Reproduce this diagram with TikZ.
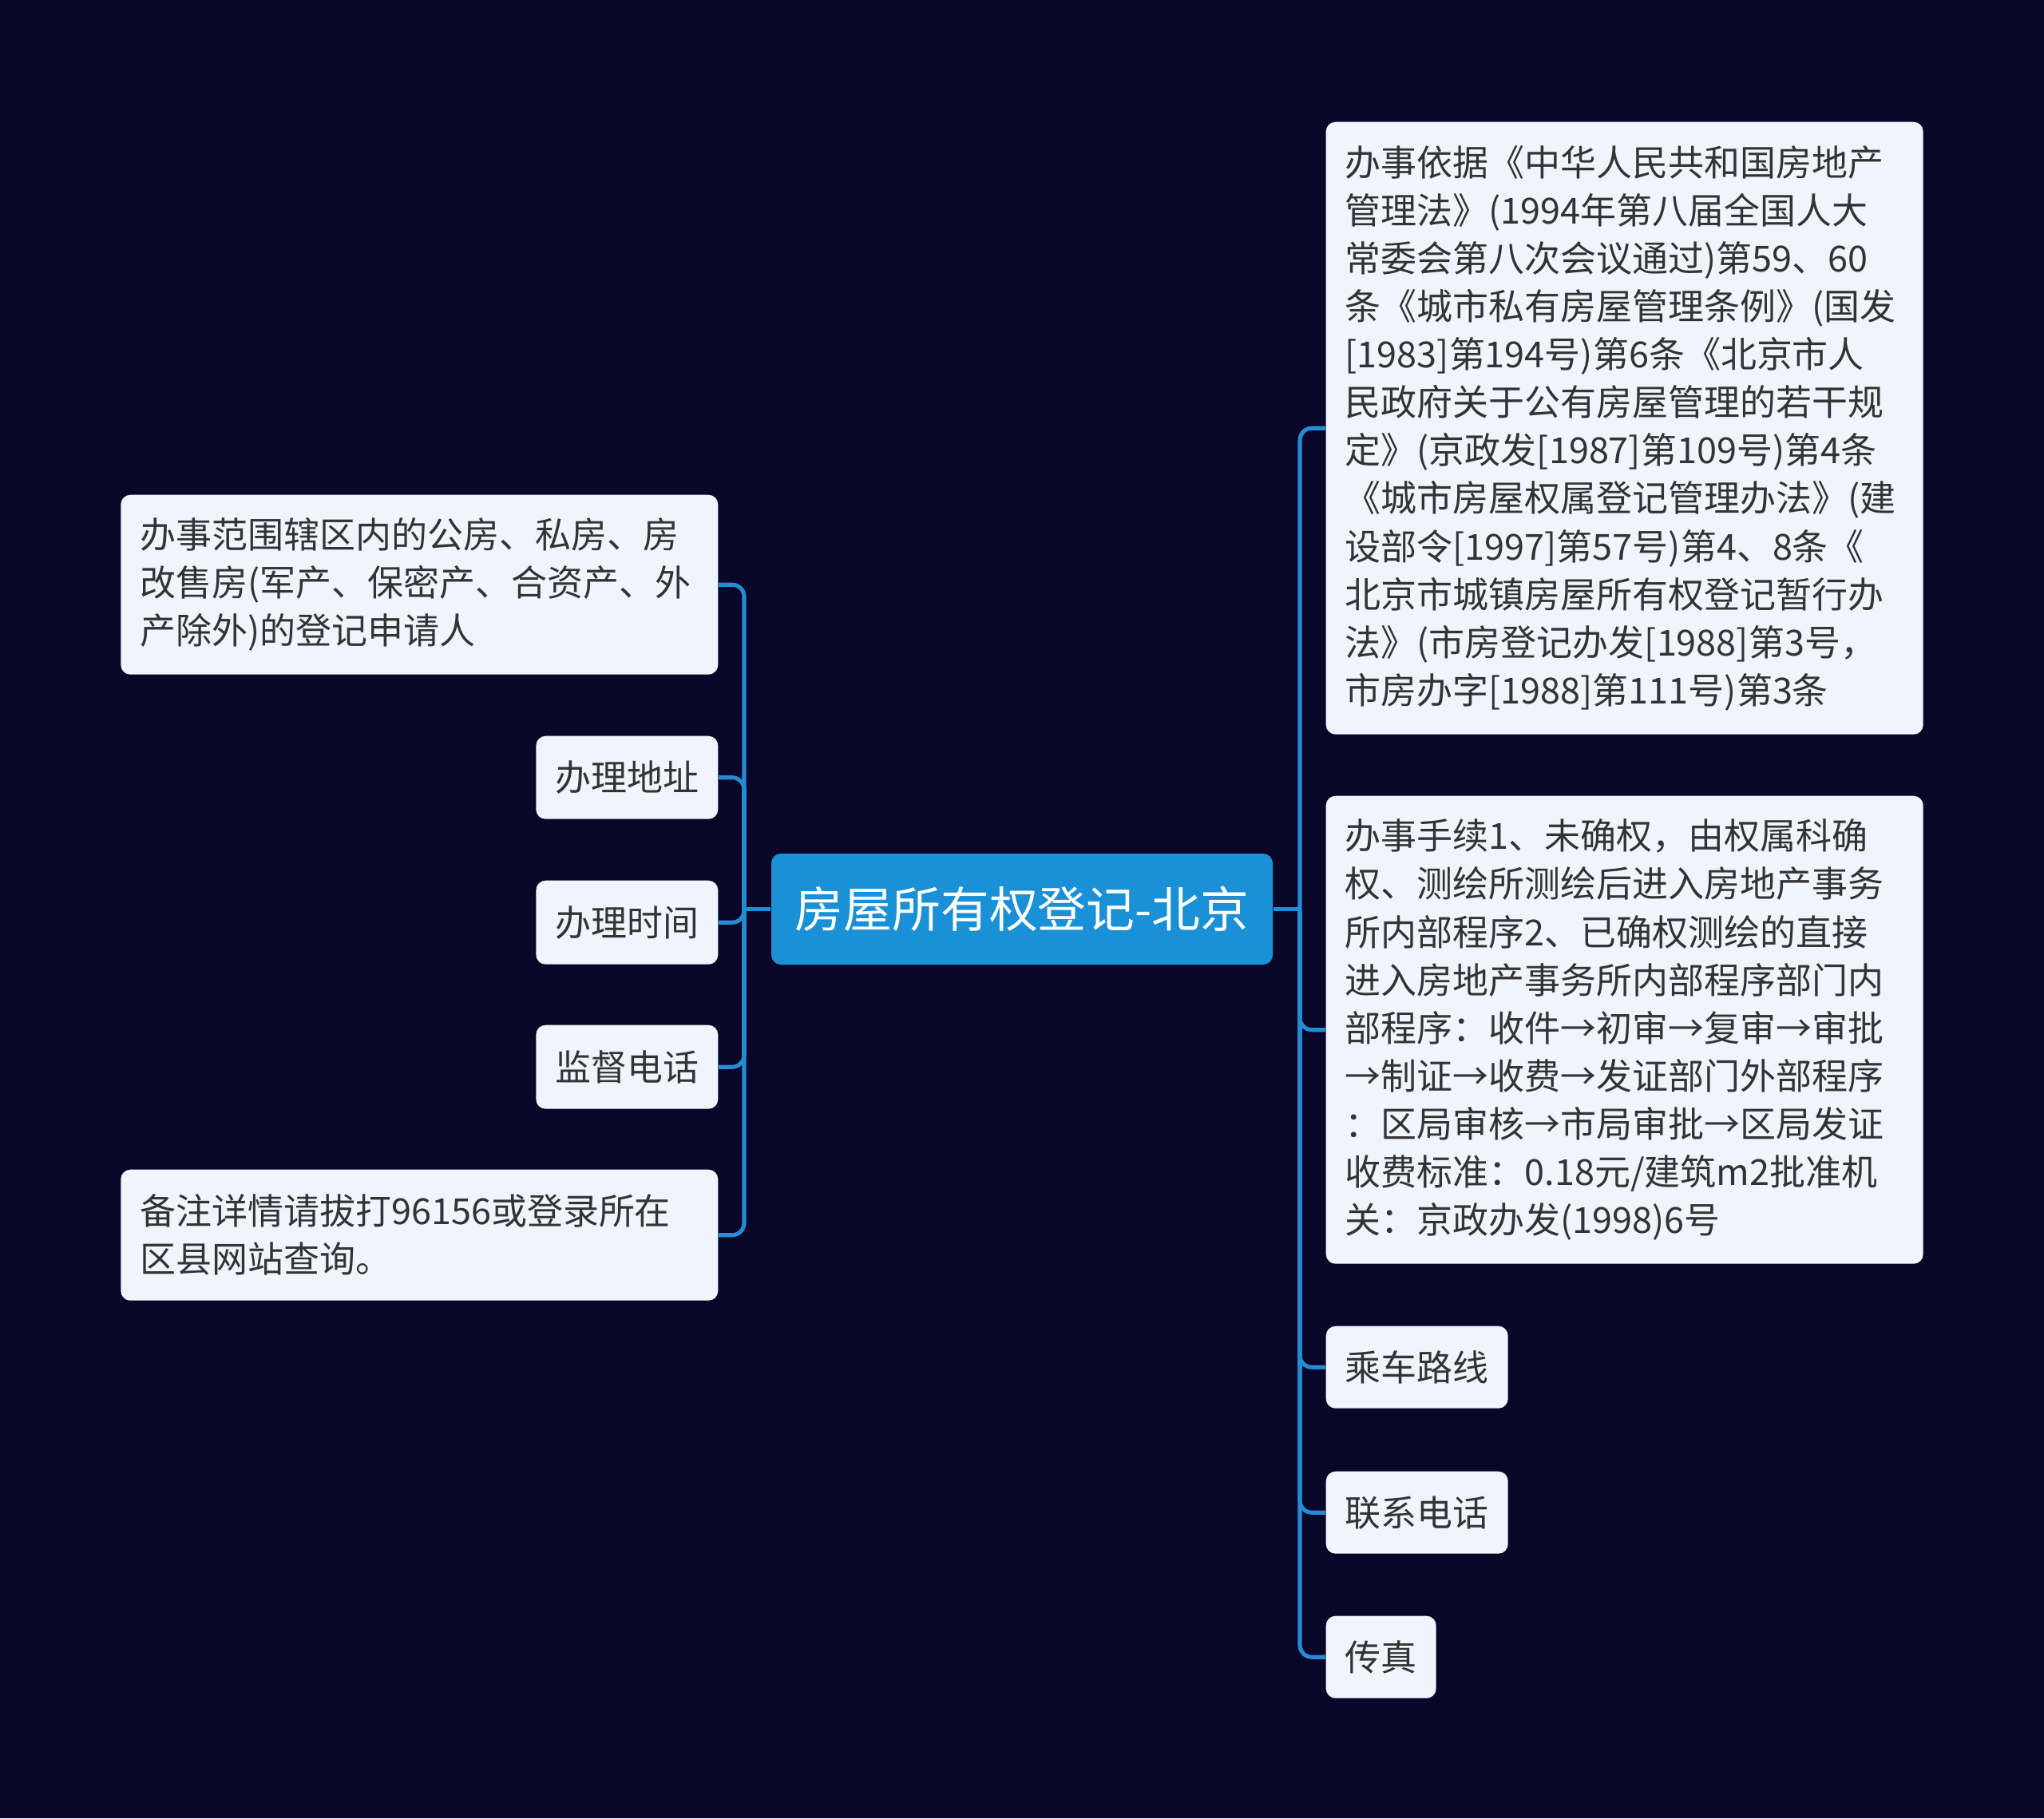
\documentclass[tikz,border=0pt]{standalone}
\usepackage{fontspec}
\setmainfont{Noto Sans CJK SC}
\usepackage{xcolor}
\usetikzlibrary{positioning}
\definecolor{mapNavy}{RGB}{10,6,41}
\definecolor{mapBlue}{RGB}{26,144,214}
\definecolor{mapLine}{RGB}{36,140,212}
\definecolor{leafFill}{RGB}{239,244,253}
\definecolor{mapText}{RGB}{51,51,51}

\begin{document}
\begin{tikzpicture}[
    rootbox/.style={fill=mapBlue, rounded corners=0.12cm, text=white, inner sep=0pt,
        font=\fontsize{17.3pt}{20pt}\selectfont, minimum width=6.28cm, minimum height=1.39cm},
    leaf/.style={fill=leafFill, rounded corners=0.12cm, text=mapText, align=left,
        font=\fontsize{12.8pt}{17.1pt}\selectfont, inner xsep=0.24cm, inner ysep=0pt},
    branch/.style={mapLine, line width=1.45pt},
]

    % page and background
    \useasboundingbox (0,0) rectangle (25.6,-22.77);
    \fill[mapNavy] (0,0) rectangle (25.6,-22.77);

    % central topic
    \node[rootbox] (root) at (12.80,-11.385) {房屋所有权登记-北京};

    % left side
    \node[leaf, anchor=north east, text width=7.00cm, minimum height=2.25cm] (range) at (9.00,-6.19)
        {办事范围辖区内的公房、私房、房\\改售房(军产、保密产、合资产、外\\产除外)的登记申请人};
    \node[leaf, anchor=north east, minimum height=1.04cm] (address) at (9.00,-9.21) {办理地址};
    \node[leaf, anchor=north east, minimum height=1.05cm] (hours) at (9.00,-11.02) {办理时间};
    \node[leaf, anchor=north east, minimum height=1.05cm] (hotline) at (9.00,-12.83) {监督电话};
    \node[leaf, anchor=north east, text width=7.00cm, minimum height=1.64cm] (note) at (9.00,-14.64)
        {备注详情请拔打96156或登录所在\\区县网站查询。};

    % right side
    \node[leaf, anchor=north west, text width=7.00cm, minimum height=7.67cm] (basis) at (16.60,-1.52)
        {办事依据《中华人民共和国房地产\\管理法》(1994年第八届全国人大\\常委会第八次会议通过)第59、60\\条《城市私有房屋管理条例》(国发\\{}[1983]第194号)第6条《北京市人\\民政府关于公有房屋管理的若干规\\定》(京政发[1987]第109号)第4条\\《城市房屋权属登记管理办法》(建\\设部令[1997]第57号)第4、8条《\\北京市城镇房屋所有权登记暂行办\\法》(市房登记办发[1988]第3号，\\市房办字[1988]第111号)第3条};
    \node[leaf, anchor=north west, text width=7.00cm, minimum height=5.86cm] (procedure) at (16.60,-9.96)
        {办事手续1、未确权，由权属科确\\权、测绘所测绘后进入房地产事务\\所内部程序2、已确权测绘的直接\\进入房地产事务所内部程序部门内\\部程序：收件→初审→复审→审批\\→制证→收费→发证部门外部程序\\：区局审核→市局审批→区局发证\\收费标准：0.18元/建筑m2批准机\\关：京政办发(1998)6号};
    \node[leaf, anchor=north west, minimum height=1.03cm] (route) at (16.60,-16.60) {乘车路线};
    \node[leaf, anchor=north west, minimum height=1.03cm] (phone) at (16.60,-18.42) {联系电话};
    \node[leaf, anchor=north west, minimum height=1.03cm] (fax) at (16.60,-20.23) {传真};

    % connectors
    \coordinate (leftHub) at (9.32,-11.385);
    \coordinate (rightHub) at (16.28,-11.385);
    \draw[branch] (root.west) -- (leftHub);
    \draw[branch] (root.east) -- (rightHub);
    \foreach \n in {range,address,hours,hotline,note}
        \draw[branch, rounded corners=0.15cm] (leftHub) |- (\n.east);
    \foreach \n in {basis,procedure,route,phone,fax}
        \draw[branch, rounded corners=0.15cm] (rightHub) |- (\n.west);

\end{tikzpicture}
\end{document}
